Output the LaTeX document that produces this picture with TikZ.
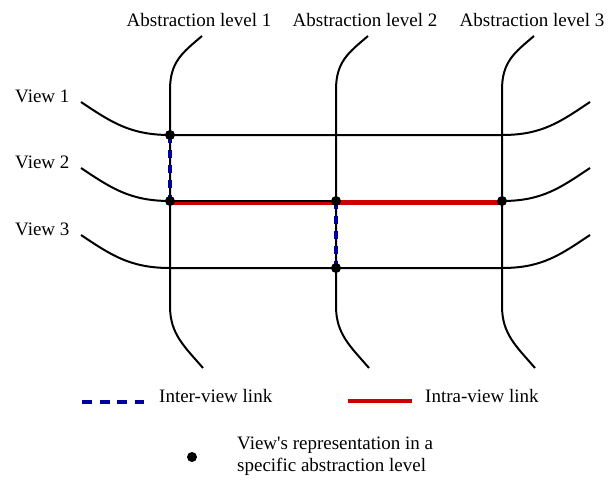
\documentclass[tikz,border=0pt]{standalone}
\usepackage{fontspec}
\setmainfont{Liberation Serif}
\definecolor{linkblue}{RGB}{0,0,160}
\definecolor{linkred}{RGB}{204,0,0}
\begin{document}
\begin{tikzpicture}[x=1pt,y=-1pt,
  grid/.style={line width=2pt,black},
  inter/.style={line width=4pt,linkblue,dash pattern=on 8pt off 7pt},
  intra/.style={line width=4.5pt,linkred},
  dot/.style={circle,fill=black,inner sep=0pt,minimum size=10pt},
  lab/.style={font=\fontsize{19}{22}\selectfont,inner sep=0pt}]
\useasboundingbox (0,0) rectangle (613,483);
% grid points
\foreach \c/\x in {1/170,2/336,3/502}{
  \foreach \r/\y in {1/135,2/201,3/268}{
    \coordinate (g\r\c) at (\x,\y);
  }
  \coordinate (t\c) at (\x+32,36);
  \coordinate (tv\c) at (\x,90);
  \coordinate (bv\c) at (\x,306);
  \coordinate (b\c) at (\x+33,368);
}
\foreach \r/\y in {1/135,2/201,3/268}{
  \coordinate (l\r) at (81,\y-33);
  \coordinate (r\r) at (590,\y-33);
}
% abstraction levels (vertical)
\foreach \c in {1,2,3}{
  \draw[grid] (t\c) .. controls ([xshift=-20pt,yshift=-17pt]t\c) and ([yshift=28pt]tv\c) .. (tv\c)
     -- (bv\c) .. controls ([yshift=-28pt]bv\c) and ([xshift=-19pt,yshift=22pt]b\c) .. (b\c);
}
% views (horizontal)
\foreach \r in {1,3}{
  \draw[grid] (l\r) .. controls ([xshift=30pt,yshift=-20pt]l\r) and ([xshift=-40pt]g\r1) .. (g\r1)
     -- (g\r3) .. controls ([xshift=40pt]g\r3) and ([xshift=-30pt,yshift=-20pt]r\r) .. (r\r);
}
\draw[grid] (l2) .. controls ([xshift=30pt,yshift=-20pt]l2) and ([xshift=-40pt]g21) .. (g21);
\draw[grid] (g23) .. controls ([xshift=40pt]g23) and ([xshift=-30pt,yshift=-20pt]r2) .. (r2);
% intra-view link
\draw[intra] ([yshift=-1.5pt]g21) -- ([yshift=-1.5pt]g23);
\draw[grid] ([yshift=0.5pt]g21) -- ([yshift=0.5pt]g22);
% inter-view links
\draw[inter] (g11) -- (g21);
\draw[inter] (g22) -- (g32);
% dots
\foreach \n in {g11,g21,g22,g23,g32}{ \node[dot] (d\n) at (\n) {}; }
% labels
\node[lab,anchor=base] (a1) at (199,26) {Abstraction level 1};
\node[lab,anchor=base] (a2) at (365,26) {Abstraction level 2};
\node[lab,anchor=base] (a3) at (532,26) {Abstraction level 3};
\node[lab,anchor=base west] (v1) at (15,102) {View 1};
\node[lab,anchor=base west] (v2) at (15,168) {View 2};
\node[lab,anchor=base west] (v3) at (15,235) {View 3};
% legend
\coordinate (ia) at (82,402);
\coordinate (ib) at (144,402);
\draw[inter,dash pattern=on 10pt off 7.5pt] (ia) -- (ib);
\node[lab,anchor=base west] (it) at (159,402) {Inter-view link};
\coordinate (ra) at (348,401);
\coordinate (rb) at (412,401);
\draw[intra] (ra) -- (rb);
\node[lab,anchor=base west] (rt) at (425,402) {Intra-view link};
\node[dot] (ld) at (192,457) {};
\node[lab,anchor=north west,align=left] (lt) at (237,437) {View\textquotesingle s representation in a\\specific abstraction level};
\end{tikzpicture}
\end{document}
